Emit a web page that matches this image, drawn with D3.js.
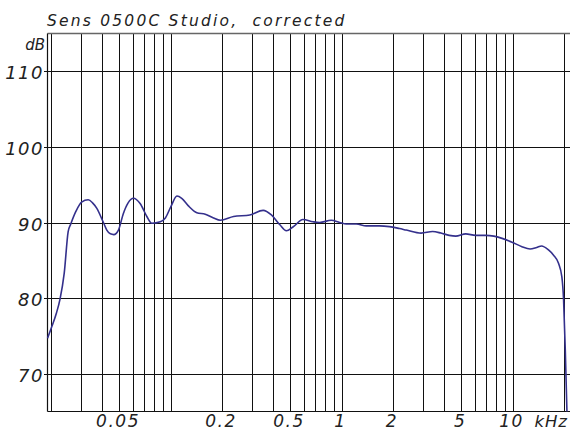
<!DOCTYPE html>
<html>
<head>
<meta charset="utf-8">
<script src="https://cdn.jsdelivr.net/npm/d3@7"></script>
<style>
  html, body { margin: 0; padding: 0; background: #fff; }
  svg { display: block; }
  text { font-family: "DejaVu Sans", "Liberation Sans", sans-serif; font-style: italic; fill: #222; }
</style>
</head>
<body>
<svg id="chart" width="570" height="432"></svg>
<script>
// Frequency response, Sens 0500C Studio (corrected)
const title = "Sens 0500C Studio,  corrected";
const unitY = "dB";
const unitX = "kHz";

// Measured points: frequency in Hz, level in dB
const freqHz = [19.1, 20.2, 21.5, 22.6, 23.9, 25.2, 26.1, 28.0, 30.2, 33.0, 35.0, 37.0,
  40.5, 42.4, 44.5, 46.6, 49.6, 53.0, 56.5, 60.7, 66.4, 72.7, 77.7, 87.1, 93.3,
  100.5, 109.0, 116.3, 127.2, 142.5, 159.6, 178.5, 195.5, 233.6, 291, 348, 389,
  436, 476, 520, 595, 681, 745, 871, 975, 1067, 1221, 1395, 1667, 1906, 2180,
  2393, 2919, 3410, 3813, 4261, 4659, 5324, 6085, 6955, 7776, 8687, 9929, 11344,
  12666, 13836, 14785, 16170, 17332, 18578, 19432, 19887, 20347, 20806];
const levelDb = [74.7, 76.2, 78.0, 79.9, 83.3, 88.8, 89.8, 91.5, 92.7, 93.0, 92.6, 91.9,
  90.0, 89.0, 88.5, 88.4, 89.0, 91.2, 92.6, 93.2, 92.5, 90.8, 89.9, 90.1, 90.6,
  92.1, 93.5, 93.2, 92.2, 91.3, 91.1, 90.6, 90.3, 90.8, 91.0, 91.6, 91.0,
  89.7, 88.9, 89.4, 90.4, 90.1, 90.0, 90.3, 90.0, 89.8, 89.8, 89.55, 89.55, 89.45, 89.2,
  89.0, 88.6, 88.8, 88.6, 88.3, 88.2, 88.5, 88.3, 88.3, 88.2, 87.9, 87.4, 86.8,
  86.5, 86.7, 86.9, 86.4, 85.7, 84.6, 82.8, 79.8, 73.2, 65.0];

// Axis ticks
const yTicks = [70, 80, 90, 100, 110];
const xLabelValues = [50, 200, 500, 1000, 2000, 5000, 10000];
const xLabelText = ["0.05", "0.2", "0.5", "1", "2", "5", "10"];
const xGridHz = [20, 30, 40, 50, 60, 70, 80, 90, 100, 200, 300, 400, 500, 600, 700,
  800, 900, 1000, 2000, 3000, 4000, 5000, 6000, 7000, 8000, 9000, 10000, 20000];

const frame = { left: 47.5, right: 570, top: 33.5, bottom: 411.5 };

const x = d3.scaleLog().domain([20, 20000]).range([51, 564]);
const y = d3.scaleLinear().domain([65, 115]).range([frame.bottom, frame.top]);

const svg = d3.select("#chart");

// vertical grid
svg.append("g").selectAll("line").data(xGridHz).join("line")
  .attr("x1", d => Math.round(x(d)) + 0.5).attr("x2", d => Math.round(x(d)) + 0.5)
  .attr("y1", frame.top).attr("y2", frame.bottom)
  .attr("stroke", "#111").attr("stroke-width", 1);

// horizontal grid with short ticks to the left of the frame
svg.append("g").selectAll("line").data(yTicks).join("line")
  .attr("x1", frame.left - 3.5).attr("x2", frame.right)
  .attr("y1", d => Math.round(y(d)) + 0.5).attr("y2", d => Math.round(y(d)) + 0.5)
  .attr("stroke", "#111").attr("stroke-width", 1);

// frame
svg.append("line")
  .attr("x1", frame.left).attr("x2", frame.right)
  .attr("y1", frame.top).attr("y2", frame.top)
  .attr("stroke", "#666").attr("stroke-width", 1.6);
svg.append("line")
  .attr("x1", frame.left).attr("x2", frame.right)
  .attr("y1", frame.bottom).attr("y2", frame.bottom)
  .attr("stroke", "#111").attr("stroke-width", 1.2);
svg.append("line")
  .attr("x1", frame.left).attr("x2", frame.left)
  .attr("y1", frame.top).attr("y2", frame.bottom)
  .attr("stroke", "#111").attr("stroke-width", 1.2);

// response curve
const pts = freqHz.map((f, i) => [f, levelDb[i]]);
const line = d3.line()
  .x(d => x(d[0]))
  .y(d => y(d[1]))
  .curve(d3.curveMonotoneX);
svg.append("path")
  .attr("d", line(pts))
  .attr("fill", "none")
  .attr("stroke", "#34308c")
  .attr("stroke-width", 1.6)
  .attr("stroke-linejoin", "round");

// y labels
svg.append("g").selectAll("text").data(yTicks).join("text")
  .attr("x", 44).attr("y", d => y(d) + 8)
  .attr("text-anchor", "end")
  .style("font-size", "18px").style("letter-spacing", "1.5px")
  .text(d => d);

svg.append("text")
  .attr("x", 45).attr("y", 50)
  .attr("text-anchor", "end")
  .style("font-size", "15px")
  .text(unitY);

// x labels
svg.append("g").selectAll("text").data(xLabelValues).join("text")
  .attr("x", d => x(d) - 1).attr("y", 427)
  .attr("text-anchor", "middle")
  .style("font-size", "17px").style("letter-spacing", "1.5px")
  .text((d, i) => xLabelText[i]);

svg.append("text")
  .attr("x", 568).attr("y", 427)
  .attr("text-anchor", "end")
  .style("font-size", "16.5px").style("letter-spacing", "1px")
  .text(unitX);

// title
svg.append("text")
  .attr("x", 47).attr("y", 26)
  .style("font-size", "15.5px").style("letter-spacing", "2.2px")
  .style("white-space", "pre")
  .text(title);
</script>
</body>
</html>
